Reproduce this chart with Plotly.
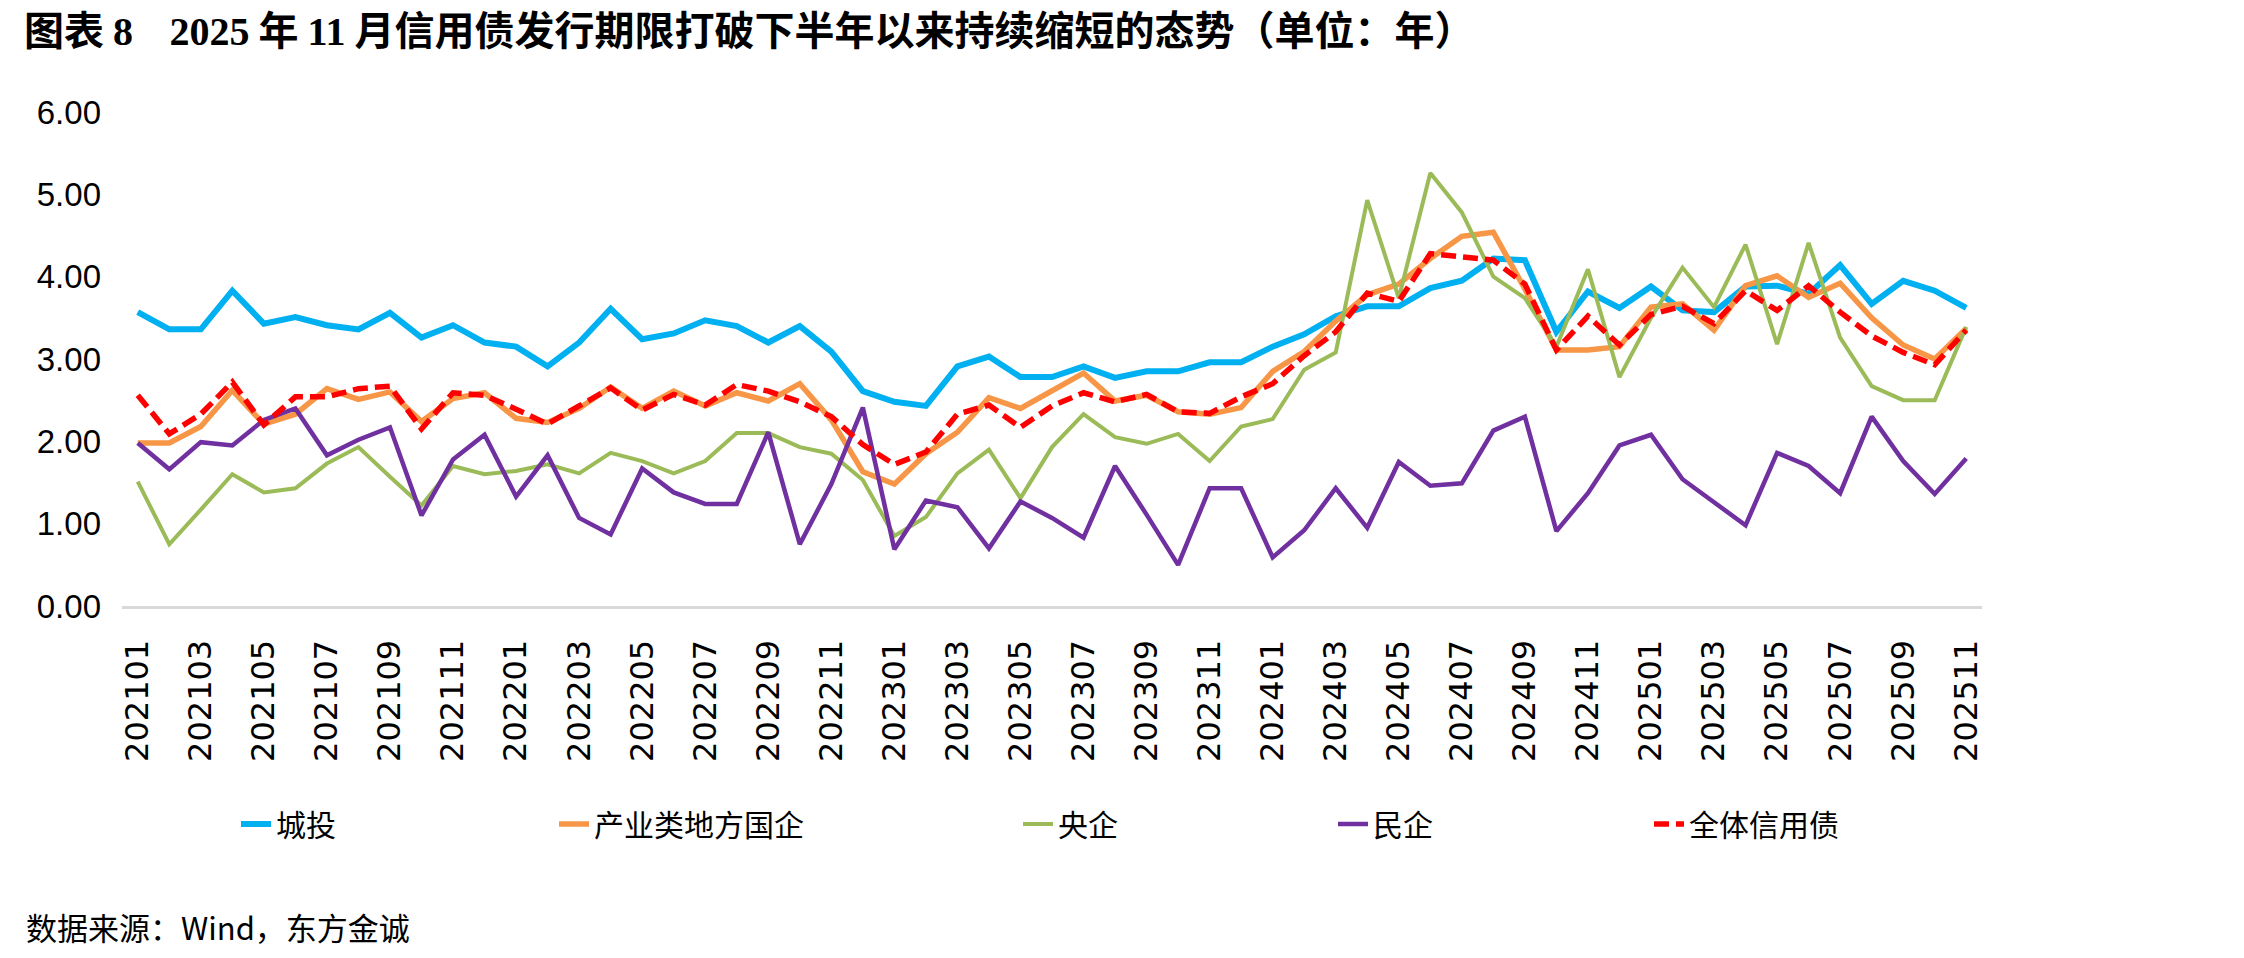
import plotly.graph_objects as go

months = [
    "202101", "202102", "202103", "202104", "202105", "202106", "202107", "202108", "202109", "202110", "202111", "202112",
    "202201", "202202", "202203", "202204", "202205", "202206", "202207", "202208", "202209", "202210", "202211", "202212",
    "202301", "202302", "202303", "202304", "202305", "202306", "202307", "202308", "202309", "202310", "202311", "202312",
    "202401", "202402", "202403", "202404", "202405", "202406", "202407", "202408", "202409", "202410", "202411", "202412",
    "202501", "202502", "202503", "202504", "202505", "202506", "202507", "202508", "202509", "202510", "202511",
]
tick_labels = months[::2]

chengtou = [3.57, 3.36, 3.36, 3.83, 3.43, 3.51, 3.41, 3.36, 3.56, 3.26, 3.41, 3.20,
            3.15, 2.91, 3.20, 3.61, 3.24, 3.31, 3.47, 3.40, 3.20, 3.40, 3.09, 2.61,
            2.48, 2.43, 2.91, 3.03, 2.78, 2.78, 2.91, 2.77, 2.85, 2.85, 2.96, 2.96,
            3.15, 3.30, 3.52, 3.64, 3.64, 3.86, 3.95, 4.22, 4.20, 3.33, 3.82, 3.62,
            3.88, 3.59, 3.57, 3.88, 3.89, 3.79, 4.14, 3.67, 3.95, 3.83, 3.62]
chanye = [1.98, 1.98, 2.18, 2.62, 2.21, 2.33, 2.64, 2.51, 2.60, 2.24, 2.52, 2.59,
          2.28, 2.23, 2.40, 2.66, 2.40, 2.61, 2.43, 2.59, 2.49, 2.70, 2.26, 1.63,
          1.48, 1.85, 2.11, 2.53, 2.40, 2.62, 2.83, 2.49, 2.56, 2.36, 2.33, 2.41,
          2.85, 3.09, 3.46, 3.78, 3.91, 4.22, 4.49, 4.54, 3.85, 3.11, 3.11, 3.15,
          3.63, 3.67, 3.35, 3.89, 4.01, 3.75, 3.92, 3.50, 3.17, 3.00, 3.37]
yangqi = [1.51, 0.75, 1.17, 1.60, 1.38, 1.43, 1.73, 1.93, 1.57, 1.22, 1.70, 1.60,
          1.64, 1.72, 1.61, 1.86, 1.76, 1.61, 1.76, 2.10, 2.10, 1.93, 1.85, 1.53,
          0.85, 1.08, 1.61, 1.90, 1.31, 1.93, 2.33, 2.05, 1.97, 2.09, 1.76, 2.18,
          2.27, 2.87, 3.08, 4.93, 3.74, 5.26, 4.78, 4.00, 3.74, 3.15, 4.09, 2.78,
          3.50, 4.11, 3.63, 4.39, 3.18, 4.41, 3.26, 2.67, 2.50, 2.50, 3.39]
minqi = [1.98, 1.66, 1.99, 1.95, 2.26, 2.40, 1.83, 2.02, 2.17, 1.10, 1.78, 2.08,
         1.33, 1.83, 1.07, 0.87, 1.67, 1.38, 1.24, 1.24, 2.11, 0.75, 1.48, 2.41,
         0.69, 1.28, 1.20, 0.70, 1.27, 1.07, 0.83, 1.70, 1.11, 0.50, 1.43, 1.43,
         0.59, 0.92, 1.43, 0.95, 1.75, 1.46, 1.49, 2.13, 2.30, 0.91, 1.37, 1.95,
         2.08, 1.54, 1.26, 0.98, 1.86, 1.70, 1.37, 2.30, 1.76, 1.36, 1.79]
quanti = [2.56, 2.09, 2.33, 2.72, 2.20, 2.54, 2.54, 2.64, 2.67, 2.15, 2.59, 2.56,
          2.39, 2.21, 2.43, 2.65, 2.38, 2.57, 2.44, 2.69, 2.61, 2.48, 2.30, 1.96,
          1.72, 1.87, 2.33, 2.44, 2.17, 2.43, 2.59, 2.48, 2.57, 2.36, 2.34, 2.54,
          2.70, 3.04, 3.33, 3.80, 3.70, 4.28, 4.24, 4.20, 3.91, 3.11, 3.52, 3.17,
          3.54, 3.64, 3.43, 3.83, 3.59, 3.89, 3.57, 3.28, 3.08, 2.93, 3.35]

series_names = ["城投", "产业类地方国企", "央企", "民企", "全体信用债"]
series_values = [chengtou, chanye, yangqi, minqi, quanti]
series_colors = ["#00B0F0", "#F79646", "#9BBB59", "#7030A0", "#FF0000"]
series_widths = [6, 5.5, 4, 4.5, 5.5]
series_dash = ["solid", "solid", "solid", "solid", "15px,7px"]

W, H = 2244, 958
L, R, T, B = 122, 1982, 112, 606
pw, ph = R - L, B - T

CJK = "Noto Sans CJK SC"
legend_text_x = [280, 598, 1062, 1377, 1693]
legend_cy = 824

fig = go.Figure()
legend_ids = ["legend", "legend2", "legend3", "legend4", "legend5"]
for i, (nm, vals) in enumerate(zip(series_names, series_values)):
    fig.add_trace(go.Scatter(
        x=months, y=vals, name=nm, mode="lines",
        line=dict(color=series_colors[i], width=series_widths[i], dash=series_dash[i]),
        legend=legend_ids[i], hoverinfo="skip",
    ))

layout_legends = {}
for i, lid in enumerate(legend_ids):
    layout_legends[lid] = dict(
        x=(legend_text_x[i] - 44 - L) / pw, xanchor="left",
        y=(B - legend_cy) / ph, yanchor="middle",
        orientation="h", bgcolor="rgba(0,0,0,0)",
        font=dict(family=CJK, size=30, color="#000000"),
        itemwidth=30,
    )

serif = "Liberation Serif, Times New Roman, serif"
title_text = ("图表 <span style=\"font-family:%s\">8</span>\u00a0\u00a0\u00a0 "
              "<span style=\"font-family:%s\">2025</span> 年 "
              "<span style=\"font-family:%s\">11</span> 月信用债发行期限打破下半年以来持续缩短的态势（单位：年）") % (serif, serif, serif)

fig.update_layout(
    width=W, height=H,
    margin=dict(l=L, r=W - R, t=T, b=H - B),
    paper_bgcolor="white", plot_bgcolor="white",
    showlegend=True,
    title=dict(text=title_text, x=24 / W, xanchor="left", xref="container",
               y=1 - 31 / H, yanchor="middle", yref="container",
               font=dict(family=CJK, size=40, color="#000000", weight="bold")),
    xaxis=dict(type="category", categoryorder="array", categoryarray=months,
               range=[-0.5, len(months) - 0.5],
               tickmode="array", tickvals=tick_labels, ticktext=tick_labels,
               tickangle=-90, ticks="", ticklabelstandoff=18,
               tickfont=dict(family="DejaVu Sans", size=32, color="#000000"),
               showgrid=False, zeroline=False,
               showline=True, linecolor="#D9D9D9", linewidth=3),
    yaxis=dict(range=[0, 6], dtick=1, tick0=0, tickformat=".2f",
               ticks="", ticklabelstandoff=20,
               tickfont=dict(family="Liberation Sans Narrow, Arial Narrow, Liberation Sans", size=33, color="#000000"),
               showgrid=False, zeroline=False, showline=False),
    annotations=[dict(text="数据来源：Wind，东方金诚", xref="paper", yref="paper",
                      x=(24 - L) / pw, y=(B - 926) / ph, xanchor="left", yanchor="middle",
                      showarrow=False, font=dict(family=CJK, size=31, color="#000000"))],
    **layout_legends,
)

fig.write_html("out.html")
